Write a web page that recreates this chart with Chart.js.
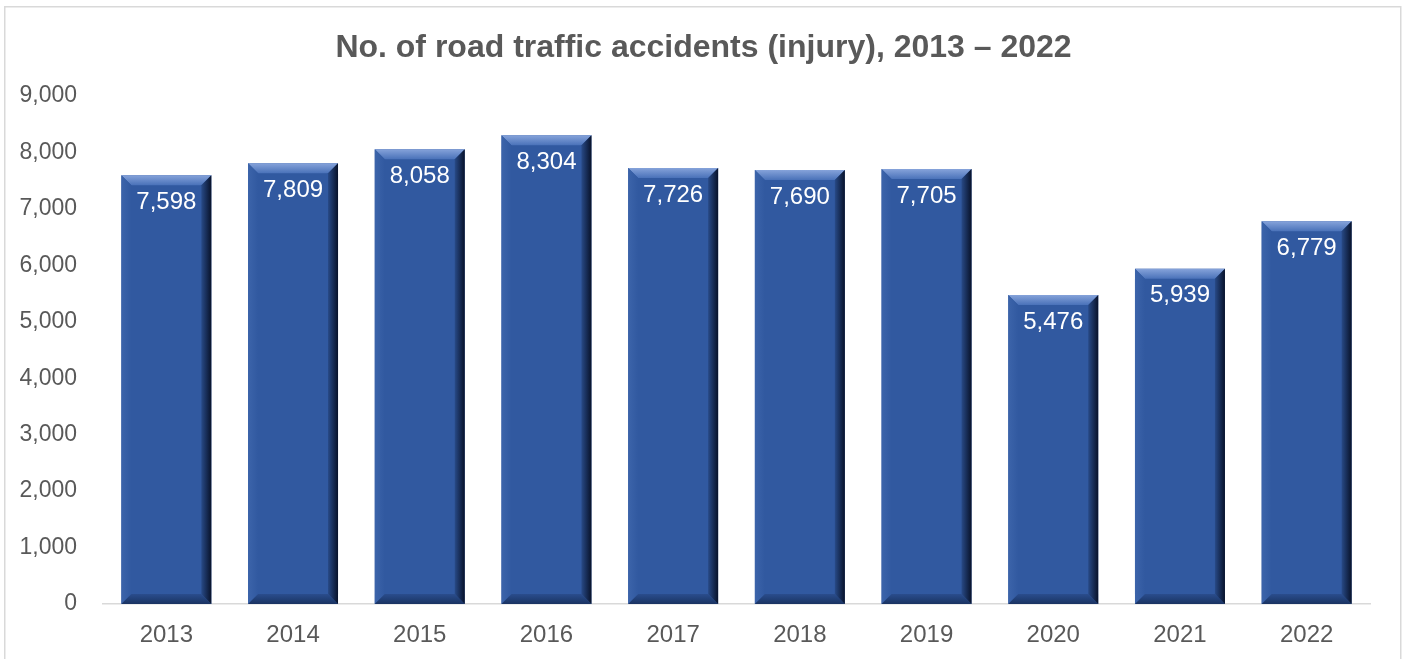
<!DOCTYPE html>
<html>
<head>
<meta charset="utf-8">
<script src="https://cdn.jsdelivr.net/npm/chart.js@4/dist/chart.umd.min.js"></script>
<style>
html,body{margin:0;padding:0;background:#fff;}
#wrap{width:1407px;height:659px;position:relative;}
</style>
</head>
<body>
<div id="wrap"><canvas id="c" width="1407" height="659"></canvas></div>
<script>
const titleText = 'No. of road traffic accidents (injury), 2013 \u2013 2022';
const years = ['2013','2014','2015','2016','2017','2018','2019','2020','2021','2022'];
const accidents = [7598, 7809, 8058, 8304, 7726, 7690, 7705, 5476, 5939, 6779];
const yTicks = [0, 1000, 2000, 3000, 4000, 5000, 6000, 7000, 8000, 9000];

const FONT = '"Liberation Sans", Arial, sans-serif';
const fmt = v => Number(v).toLocaleString('en-US');

const framePlugin = {
  id: 'frame',
  beforeDraw(chart) {
    const ctx = chart.ctx;
    ctx.save();
    ctx.fillStyle = '#ffffff';
    ctx.fillRect(0, 0, chart.width, chart.height);
    ctx.strokeStyle = '#D9D9D9';
    ctx.lineWidth = 1.5;
    ctx.strokeRect(4.75, 6.75, 1396, 700);
    ctx.restore();
  },
  afterLayout(chart) {
    // centre the title on the whole canvas rather than the padded layout box
    if (chart.titleBlock) {
      chart.titleBlock.left = 0;
      chart.titleBlock.right = chart.width;
      chart.titleBlock.width = chart.width;
    }
  }
};

const bevelPlugin = {
  id: 'bevel',
  afterDatasetsDraw(chart) {
    const ctx = chart.ctx;
    const meta = chart.getDatasetMeta(0);
    meta.data.forEach((bar, i) => {
      const p = bar.getProps(['x', 'y', 'base', 'width'], true);
      const l = p.x - p.width / 2, r = p.x + p.width / 2, t = p.y, b = p.base;
      const s = 10;
      ctx.save();
      // top face
      let g = ctx.createLinearGradient(0, t, 0, t + s);
      g.addColorStop(0, '#86A3DA');
      g.addColorStop(1, '#4A72B9');
      ctx.fillStyle = g;
      ctx.beginPath();
      ctx.moveTo(l, t); ctx.lineTo(r, t); ctx.lineTo(r - s, t + s); ctx.lineTo(l + s, t + s); ctx.closePath();
      ctx.fill();
      // left face
      g = ctx.createLinearGradient(l, 0, l + s, 0);
      g.addColorStop(0, '#3C64AA');
      g.addColorStop(1, '#3159A0');
      ctx.fillStyle = g;
      ctx.beginPath();
      ctx.moveTo(l, t); ctx.lineTo(l + s, t + s); ctx.lineTo(l + s, b - s); ctx.lineTo(l, b); ctx.closePath();
      ctx.fill();
      // bottom face
      g = ctx.createLinearGradient(0, b - s, 0, b);
      g.addColorStop(0, '#2A4D8D');
      g.addColorStop(1, '#1A3362');
      ctx.fillStyle = g;
      ctx.beginPath();
      ctx.moveTo(l, b); ctx.lineTo(l + s, b - s); ctx.lineTo(r - s, b - s); ctx.lineTo(r, b); ctx.closePath();
      ctx.fill();
      // right face
      g = ctx.createLinearGradient(r - s, 0, r, 0);
      g.addColorStop(0, '#284A87');
      g.addColorStop(1, '#08122A');
      ctx.fillStyle = g;
      ctx.beginPath();
      ctx.moveTo(r, t); ctx.lineTo(r, b); ctx.lineTo(r - s, b - s); ctx.lineTo(r - s, t + s); ctx.closePath();
      ctx.fill();
      // data label
      ctx.fillStyle = '#FFFFFF';
      ctx.font = '24px ' + FONT;
      ctx.textAlign = 'center';
      ctx.textBaseline = 'middle';
      ctx.fillText(fmt(accidents[i]), p.x, t + 27);
      ctx.restore();
    });
  }
};

new Chart(document.getElementById('c'), {
  type: 'bar',
  data: {
    labels: years,
    datasets: [{
      data: accidents,
      backgroundColor: '#3159A0',
      borderWidth: 0,
      barPercentage: 0.71,
      categoryPercentage: 1.0
    }]
  },
  options: {
    responsive: false,
    animation: false,
    devicePixelRatio: 1,
    layout: { padding: { left: 0, right: 37, top: 0, bottom: 0 } },
    plugins: {
      legend: { display: false },
      tooltip: { enabled: false },
      title: {
        display: true,
        text: titleText,
        color: '#595959',
        font: { family: FONT, size: 32, weight: 'bold' },
        padding: { top: 29, bottom: 28.6 }
      }
    },
    scales: {
      x: {
        grid: { display: false },
        border: { display: true, color: '#D9D9D9', width: 1.5 },
        ticks: { color: '#595959', font: { family: FONT, size: 24 }, padding: 9, maxRotation: 0 },
        afterFit(scale) { scale.height = 55; }
      },
      y: {
        min: 0, max: 9000,
        afterBuildTicks(scale) { scale.ticks = yTicks.map(v => ({ value: v })); },
        grid: { display: false },
        border: { display: false },
        ticks: { color: '#595959', font: { family: FONT, size: 23 }, padding: 18, callback: v => fmt(v) },
        afterFit(scale) { scale.width = 103; }
      }
    }
  },
  plugins: [framePlugin, bevelPlugin]
});
</script>
</body>
</html>
